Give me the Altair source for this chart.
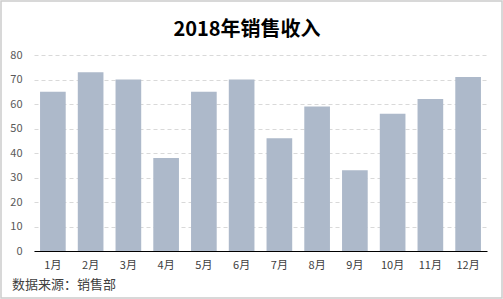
import altair as alt
import pandas as pd

months = ["1月", "2月", "3月", "4月", "5月", "6月", "7月", "8月", "9月", "10月", "11月", "12月"]
revenue = [65, 73, 70, 38, 65, 70, 46, 59, 33, 56, 62, 71]
y_ticks = [0, 10, 20, 30, 40, 50, 60, 70, 80]
title_text = "2018年销售收入"
source_text = "数据来源：销售部"

df = pd.DataFrame({"month": months, "revenue": revenue})
FONT = "Noto Sans CJK SC"

W, H = 453, 196
PL, PT, PR, PB = 34, 55, 16, 48

bars = alt.Chart(df).mark_bar(color="#ADB9CA").encode(
    x=alt.X("month:N", sort=months, title=None,
            scale=alt.Scale(paddingInner=0.32, paddingOuter=0.16),
            axis=alt.Axis(labelAngle=0, labelFontSize=11, labelColor="#404040",
                          labelFont=FONT, domainColor="#000000", domainWidth=1.2,
                          ticks=False, labelPadding=8)),
    y=alt.Y("revenue:Q", title=None,
            scale=alt.Scale(domain=[0, 80]),
            axis=alt.Axis(values=y_ticks, domain=False, ticks=False,
                          labelFontSize=11, labelColor="#595959", labelFont=FONT,
                          labelPadding=12, gridColor="#D9D9D9", gridDash=[4, 3])),
)

title = alt.Chart(alt.Data(values=[{"t": title_text}])).mark_text(
    align="center", baseline="middle", fontSize=20, font=FONT, fontWeight="bold",
    color="#000000"
).encode(x=alt.value(247 - PL), y=alt.value(30 - PT), text="t:N")

source = alt.Chart(alt.Data(values=[{"t": source_text}])).mark_text(
    align="left", baseline="middle", fontSize=13, font=FONT, color="#404040"
).encode(x=alt.value(-PL + 12), y=alt.value(H + 34), text="t:N")

border = alt.Chart(alt.Data(values=[{"a": 1}])).mark_rect(
    fill=None, stroke="#CCCCCC", strokeWidth=1.5
).encode(x=alt.value(-PL + 1), x2=alt.value(W + PR - 1),
         y=alt.value(-PT + 1), y2=alt.value(H + PB - 1))

chart = alt.layer(border, bars, title, source).properties(
    width=W, height=H,
    padding={"left": PL, "top": PT, "right": PR, "bottom": PB},
    autosize=alt.AutoSizeParams(type="none"),
    background="white",
).configure_view(stroke=None)

chart.save("out.html", embed_options={"renderer": "svg", "actions": False})
